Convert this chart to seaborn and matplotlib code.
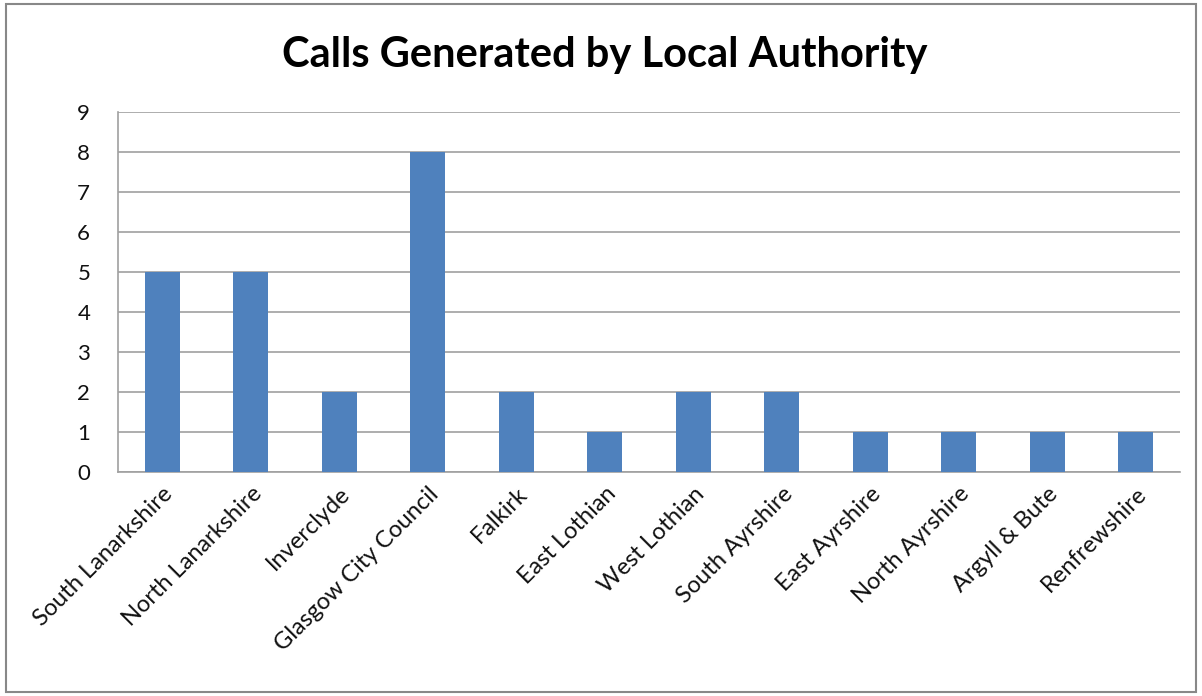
import matplotlib
matplotlib.use("Agg")
import matplotlib.pyplot as plt
import seaborn as sns
import pandas as pd
from matplotlib.patches import Rectangle

categories = ["South Lanarkshire", "North Lanarkshire", "Inverclyde", "Glasgow City Council",
              "Falkirk", "East Lothian", "West Lothian", "South Ayrshire", "East Ayrshire",
              "North Ayrshire", "Argyll & Bute", "Renfrewshire"]
calls = [5, 5, 2, 8, 2, 1, 2, 2, 1, 1, 1, 1]
yticks = list(range(0, 10))
title = "Calls Generated by Local Authority"

sns.set_style("white")
plt.rcParams['font.family'] = ['Lato', 'DejaVu Sans']

df = pd.DataFrame({"Authority": categories, "Calls": calls})

fig = plt.figure(figsize=(12.02, 6.96), dpi=100)
ax = fig.add_axes([118/1202, 1 - 472/696, (1180-118)/1202, (472-112)/696])

sns.barplot(data=df, x="Authority", y="Calls", color="#4F81BD", saturation=1,
            width=0.4, ax=ax, zorder=3, linewidth=0)

ax.set_ylim(0, 9)
ax.set_xlim(-0.5, len(categories) - 0.5)
ax.set_yticks(yticks)
ax.set_yticklabels([str(v) for v in yticks], fontsize=16, color="#111111")
ax.yaxis.grid(True, color="#A0A0A0", linewidth=1.2, zorder=0)
ax.set_axisbelow(True)
ax.set_xlabel("")
ax.set_ylabel("")
ax.tick_params(axis="y", length=0, pad=20)
ax.tick_params(axis="x", length=0, pad=8)
for s in ["top", "right"]:
    ax.spines[s].set_visible(False)
for s in ["left", "bottom"]:
    ax.spines[s].set_color("#A0A0A0")
    ax.spines[s].set_linewidth(1.2)
ax.set_xticks(range(len(categories)))
ax.set_xticklabels(categories, rotation=45, ha="right", rotation_mode="anchor",
                   fontsize=17, color="#111111")

fig.text(605/1202, 1 - 55/696, title, ha="center", va="center", fontsize=30,
         fontweight="bold", color="black")

fig.patches.append(Rectangle((6/1202, 1 - 692/696), (1196-6)/1202, (692-4)/696,
                             transform=fig.transFigure, fill=False, edgecolor="#888888",
                             linewidth=1.5))

fig.savefig("out.png", dpi=100)
